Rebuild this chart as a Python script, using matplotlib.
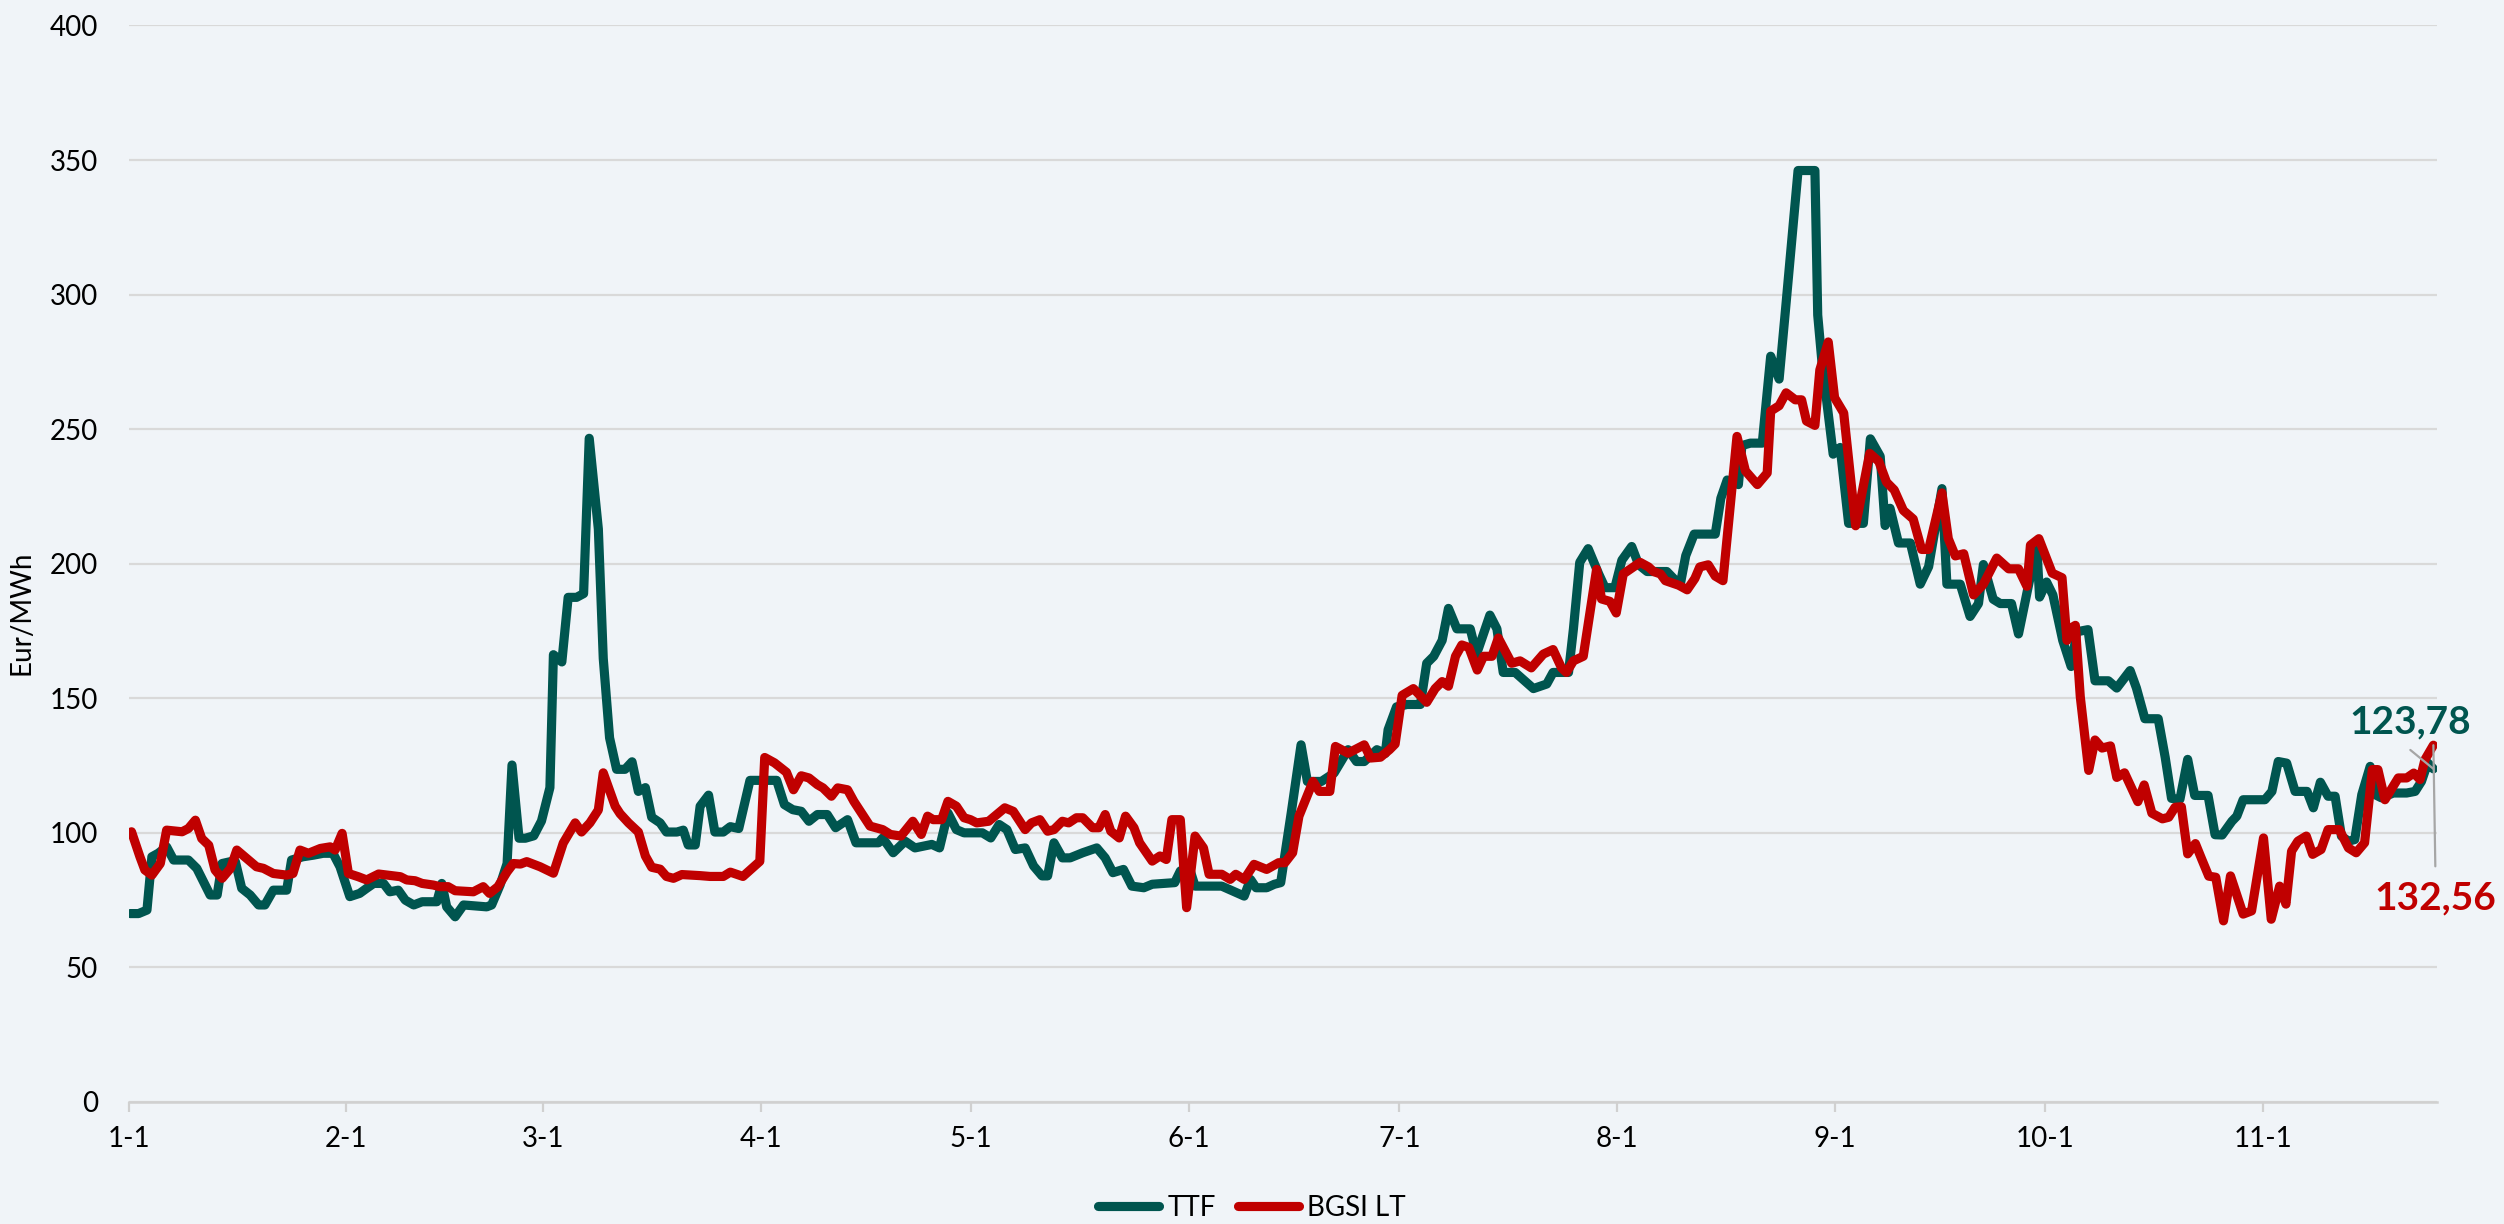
import matplotlib
matplotlib.use("Agg")
import matplotlib.pyplot as plt

# === DATA (days counted from 1 January) ===
ttf_days = [0.2, 1.4, 2.6, 3.3, 4.2, 5.4, 6.4, 8.5, 9.7, 10.9, 11.6, 12.6, 13.3, 14.5, 15.2, 16.1, 17.3,
            18.5, 19.4, 20.6, 22.5, 23.2, 24.8, 26.3, 27.7, 29.1, 30.1, 31.5, 32.9, 33.9, 34.9, 36.3,
            37.2, 38.4, 39.4, 40.6, 41.8, 43.9, 44.6, 45.3, 46.5, 47.7, 51.0, 51.7, 52.9, 53.9, 54.6,
            55.6, 56.5, 57.7, 58.8, 60.0, 60.5, 61.7, 62.6, 63.8, 64.8, 65.6, 66.9, 67.6, 68.5, 69.5,
            70.7, 71.7, 72.6, 73.6, 74.5, 75.7, 76.6, 78.1, 79.0, 79.7, 80.7, 81.4, 82.6, 83.5, 84.7,
            85.7, 86.9, 88.5, 92.3, 93.4, 94.6, 95.8, 96.9, 98.1, 99.5, 100.7, 102.4, 103.6, 106.8,
            107.4, 108.9, 110.6, 112.0, 114.4, 115.5, 116.7, 117.9, 119.0, 121.6, 122.8, 124.0, 125.1,
            126.3, 127.7, 128.9, 130.1, 130.9, 131.8, 133.0, 134.1, 135.9, 137.9, 139.1, 140.2, 141.7,
            142.9, 144.6, 145.8, 149.0, 149.8, 151.0, 151.9, 155.7, 158.9, 159.8, 160.6, 162.1, 163.2,
            164.1, 165.6, 167.0, 167.9, 169.9, 171.7, 173.7, 174.9, 176.0, 177.8, 179.0, 179.4, 180.6,
            182.1, 184.0, 184.9, 185.9, 187.1, 188.0, 189.2, 191.1, 192.0, 193.9, 194.9, 195.8, 197.5,
            200.1, 202.0, 202.9, 205.1, 205.8, 206.7, 207.9, 209.4, 210.3, 211.7, 212.7, 214.1, 215.1,
            216.3, 219.1, 221.0, 221.8, 223.0, 226.0, 226.8, 227.7, 229.3, 229.8, 231.0, 232.7, 233.9,
            235.1, 236.0, 237.8, 240.2, 240.6, 241.2, 242.8, 243.8, 245.0, 247.1, 248.1, 249.5, 250.2,
            250.9, 252.1, 253.8, 255.2, 256.4, 258.3, 259.0, 260.9, 262.3, 263.5, 264.2, 265.6, 266.6,
            268.2, 269.2, 270.6, 271.8, 272.2, 273.2, 274.1, 275.5, 276.7, 277.5, 279.1, 280.1, 282.0,
            283.2, 285.1, 286.0, 287.2, 289.1, 290.1, 291.0, 292.2, 293.3, 294.3, 296.2, 297.2, 298.2,
            299.6, 300.3, 301.2, 304.3, 305.3, 306.2, 307.4, 308.6, 310.3, 311.2, 312.2, 313.3, 314.3,
            315.2, 316.2, 317.1, 318.1, 319.3, 320.0, 320.9, 322.6, 324.5, 325.7, 326.6, 327.5, 328.3]
ttf_vals = [70, 70, 71.3, 91.1, 92.4, 94.8, 89.9, 89.9, 86.8, 80.6, 76.9, 76.9, 88.6, 89.3, 89.3, 79.4, 76.9,
            73.2, 73.2, 78.7, 78.7, 89.9, 91.1, 91.7, 92.4, 92.4, 87.4, 76.3, 77.5, 79.4, 81.2, 81.2,
            78.1, 78.7, 75.0, 73.2, 74.4, 74.4, 81.2, 72.5, 68.8, 73.2, 72.5, 73.2, 80.6, 88.6, 125.2,
            98.0, 98.0, 98.9, 104.4, 116.8, 166.2, 163.5, 187.5, 187.5, 188.9, 246.6, 212.9, 164.8, 135.3, 123.6,
            123.6, 126.4, 115.4, 116.8, 105.8, 103.7, 100.3, 100.3, 101.0, 95.5, 95.5, 109.9, 114.0, 100.3, 100.3,
            102.3, 101.6, 119.5, 119.5, 110.5, 108.6, 108.0, 104.3, 106.8, 106.8, 101.9, 104.9, 96.3, 96.3,
            98.1, 92.6, 96.9, 94.4, 95.7, 94.4, 107.4, 101.2, 100.0, 100.0, 98.1, 103.1, 101.2,
            93.8, 94.4, 87.7, 84.0, 84.0, 96.3, 90.7, 90.7, 92.6, 94.4, 90.7, 85.2, 86.4,
            80.2, 79.6, 80.9, 81.5, 85.8, 87.7, 80.2, 80.2, 76.5, 82.7, 79.6, 79.6, 80.9,
            81.5, 107.4, 132.7, 119.1, 119.1, 122.2, 130.9, 126.5, 126.5, 130.9, 129.5, 138.3, 146.8,
            147.7, 147.7, 163.0, 165.6, 171.5, 183.4, 175.8, 175.8, 166.4, 180.9, 175.8, 159.6, 159.6,
            153.6, 155.3, 159.6, 159.6, 175.8, 200.5, 205.6, 196.2, 191.1, 191.1, 201.3, 206.4, 199.6,
            197.1, 197.1, 192.0, 203.0, 211.0, 211.0, 224.3, 231.1, 229.4, 243.9, 244.8, 244.8, 277.1,
            268.6, 294.1, 346.1, 346.1, 292.4, 275.0, 240.7, 243.2, 215.0, 215.0, 246.4, 239.9, 214.2,
            220.6, 207.7, 207.7, 192.4, 198.9, 227.9, 192.4, 192.4, 180.4, 185.2, 199.7, 186.8, 185.2,
            185.2, 173.9, 191.6, 206.9, 187.6, 193.2, 188.4, 171.5, 161.8, 174.7, 175.5, 156.5, 156.5,
            153.8, 160.3, 153.8, 142.4, 142.4, 128.0, 112.8, 112.5, 127.3, 113.9, 113.9, 99.3, 99.2,
            104.3, 106.2, 112.3, 112.3, 115.4, 126.5, 125.9, 115.4, 115.4, 109.3, 118.8, 113.6, 113.6,
            98.8, 96.9, 97.5, 114.2, 124.7, 114.2, 113.0, 114.8, 114.8, 115.4, 119.1, 126.0, 123.78]

bgsi_days = [0.4, 1.6, 2.3, 3.3, 4.5, 5.4, 7.6, 8.5, 9.5, 10.4, 11.4, 12.3, 13.3, 14.5, 15.4, 16.8, 18.2,
             19.2, 20.6, 22.5, 23.4, 24.4, 25.6, 27.3, 28.7, 29.4, 30.4, 31.3, 32.7, 33.9, 35.6, 36.8,
             38.7, 39.6, 40.8, 41.8, 43.4, 44.3, 45.5, 46.5, 49.1, 50.5, 51.4, 52.6, 53.9, 54.8, 55.8,
             56.7, 58.6, 60.5, 61.9, 63.6, 64.5, 65.7, 66.9, 67.6, 69.3, 70.0, 71.2, 72.6, 73.6, 74.5,
             75.7, 76.6, 77.6, 78.8, 81.4, 82.8, 84.7, 85.7, 87.5, 89.9, 90.6, 92.0, 93.7, 94.7, 95.8,
             96.9, 98.1, 98.9, 100.1, 101.0, 102.4, 103.3, 105.6, 107.4, 108.5, 110.0, 111.7, 112.9,
             113.8, 114.6, 115.8, 116.7, 117.9, 119.0, 119.9, 120.8, 122.5, 124.8, 126.0, 127.7, 128.6,
             129.8, 130.9, 131.8, 133.0, 133.9, 135.0, 135.9, 137.3, 138.2, 139.1, 139.9, 141.1, 142.0,
             143.2, 144.0, 145.8, 146.9, 147.8, 148.6, 149.8, 150.7, 151.9, 153.1, 153.9, 155.7, 156.9,
             157.7, 158.9, 160.3, 162.1, 163.8, 164.7, 165.8, 166.7, 168.7, 169.6, 171.1, 171.9, 173.7,
             176.0, 176.9, 178.3, 179.6, 180.4, 181.4, 183.0, 184.9, 186.1, 187.1, 188.0, 189.0, 189.9,
             190.9, 192.1, 193.0, 194.2, 195.1, 197.0, 198.2, 199.8, 201.5, 202.9, 204.1, 204.8, 205.8,
             207.2, 209.1, 209.8, 211.0, 211.9, 212.9, 215.3, 216.5, 217.2, 218.2, 218.9, 220.8, 222.0,
             223.1, 223.8, 225.0, 226.0, 227.1, 229.1, 230.3, 232.0, 233.4, 233.9, 235.1, 236.1, 237.4,
             238.3, 239.0, 240.2, 240.9, 242.1, 243.0, 244.3, 246.0, 248.0, 249.3, 250.4, 251.5, 252.8,
             254.2, 255.4, 256.4, 258.3, 259.2, 260.2, 261.4, 262.8, 264.2, 266.1, 267.8, 269.2, 270.4,
             270.9, 272.1, 274.0, 275.4, 276.1, 276.8, 277.3, 278.0, 279.2, 280.1, 281.1, 282.3, 283.2,
             284.3, 286.2, 287.1, 288.2, 289.7, 290.6, 291.5, 292.4, 293.3, 294.4, 295.3, 296.3, 297.3,
             298.4, 299.4, 301.2, 302.4, 304.1, 305.2, 306.4, 307.3, 308.1, 309.0, 310.2, 311.1, 312.3,
             313.3, 314.9, 316.2, 317.3, 318.5, 319.6, 320.4, 321.4, 323.3, 324.5, 325.5, 326.4, 327.1,
             328.3]
bgsi_vals = [100.4, 91.1, 86.2, 84.3, 88.6, 101.0, 100.4, 101.6, 104.7, 97.9, 95.4, 86.2, 83.1, 86.8, 93.6, 90.5, 87.4,
             86.8, 84.9, 84.3, 84.9, 93.6, 92.4, 94.2, 94.8, 93.6, 99.8, 84.9, 83.7, 82.5, 84.7, 84.3,
             83.7, 82.5, 82.2, 81.2, 80.6, 80.0, 80.0, 78.5, 78.1, 80.0, 77.5, 80.0, 85.5, 88.6, 88.4,
             89.3, 87.4, 85.0, 96.2, 103.7, 100.3, 103.7, 108.5, 122.3, 109.9, 107.1, 103.7, 100.3, 91.4, 87.2,
             86.5, 83.8, 83.1, 84.5, 84.1, 83.8, 83.8, 85.4, 83.8, 89.4, 128.0, 126.0, 122.5, 116.0, 121.2,
             120.4, 117.9, 116.7, 113.6, 116.7, 116.0, 111.7, 102.5, 101.2, 99.4, 98.8, 104.3, 99.4,
             106.2, 104.9, 104.9, 111.7, 109.9, 105.6, 104.9, 103.7, 104.3, 109.3, 108.0, 101.2, 103.7,
             104.9, 100.6, 101.2, 104.3, 103.7, 105.6, 105.6, 101.9, 101.9, 106.8, 100.6, 98.1, 106.2,
             101.9, 96.3, 89.5, 91.4, 90.1, 104.9, 104.9, 72.2, 98.8, 94.4, 84.6, 84.6, 82.7,
             84.6, 82.7, 88.3, 86.4, 88.9, 88.9, 92.6, 106.2, 119.1, 115.4, 115.4, 132.1, 129.6,
             132.7, 127.8, 128.1, 130.9, 133.0, 151.1, 153.6, 148.5, 153.6, 156.2, 154.5, 165.6, 169.8,
             168.9, 160.5, 165.6, 165.6, 172.4, 163.0, 163.9, 161.3, 166.4, 168.1, 161.3, 159.6, 163.9,
             165.6, 197.9, 186.9, 186.0, 181.7, 196.2, 200.5, 198.8, 197.1, 196.2, 193.7, 192.0, 190.3,
             194.5, 198.8, 199.6, 195.4, 193.7, 247.3, 234.5, 229.4, 233.7, 256.7, 258.7, 263.5, 260.9,
             260.9, 253.0, 251.4, 272.0, 282.4, 261.7, 256.0, 214.1, 241.0, 238.0, 230.3, 227.4, 219.8,
             216.6, 205.3, 205.3, 226.3, 209.3, 202.9, 203.7, 188.4, 192.4, 202.1, 198.1, 198.1, 191.6,
             206.9, 209.3, 196.5, 194.8, 171.5, 176.3, 177.1, 150.6, 123.2, 134.5, 131.5, 132.3, 120.6,
             122.3, 111.6, 117.8, 107.3, 105.2, 105.8, 109.5, 109.7, 92.2, 96.0, 90.2, 83.9, 83.5,
             67.3, 84.0, 69.8, 71.0, 98.1, 67.9, 80.2, 73.5, 93.2, 96.9, 98.8, 92.0, 93.8,
             101.2, 101.2, 94.4, 92.6, 96.3, 123.5, 123.5, 112.3, 120.4, 120.4, 122.2, 119.8, 127.2,
             132.56]

month_days = [0, 31, 59, 90, 120, 151, 181, 212, 243, 273, 304]
month_labels = ["1-1", "2-1", "3-1", "4-1", "5-1", "6-1", "7-1", "8-1", "9-1", "10-1", "11-1"]
y_ticks = [0, 50, 100, 150, 200, 250, 300, 350, 400]

# === STYLE ===
BG = "#f0f4f8"
TTF_COLOR = "#00554f"
BGSI_COLOR = "#c00000"
GRID = "#d9d9d9"
LW = 3.3

plt.rcParams["font.family"] = ["Lato", "DejaVu Sans"]

fig = plt.figure(figsize=(12.52, 6.12), dpi=200, facecolor=BG)
ax = fig.add_axes([0.0514, 0.0997, 0.9218, 0.8795])
ax.set_facecolor(BG)

ax.plot(ttf_days, ttf_vals, color=TTF_COLOR, lw=LW, solid_joinstyle="round",
        solid_capstyle="round", label="TTF", zorder=3)
ax.plot(bgsi_days, bgsi_vals, color=BGSI_COLOR, lw=LW, solid_joinstyle="round",
        solid_capstyle="round", label="BGSI LT", zorder=4)

ax.set_xlim(0, 328.8)
ax.set_ylim(0, 400)
ax.set_yticks(y_ticks)
ax.set_xticks(month_days)
ax.set_xticklabels(month_labels)
ax.grid(axis="y", color=GRID, lw=0.8)
ax.set_axisbelow(True)

for side in ["top", "right", "left"]:
    ax.spines[side].set_visible(False)
ax.spines["bottom"].set_color("#d0d0d0")
ax.spines["bottom"].set_linewidth(0.9)

ax.tick_params(axis="y", length=0, pad=11, labelsize=10, labelcolor="black")
ax.tick_params(axis="x", length=3.6, width=0.8, color="#d0d0d0", pad=5, labelsize=10,
               labelcolor="black")

fig.text(22 / 2504, 0.499, "Eur/MWh", rotation=90, ha="center", va="center", fontsize=10)

# end-value callouts
ax.annotate(f"{ttf_vals[-1]:.2f}".replace(".", ","), xy=(ttf_days[-1], ttf_vals[-1]),
            xytext=(-8.3, 17), textcoords="offset points", ha="center", va="center",
            fontsize=14, fontweight="bold", color=TTF_COLOR, zorder=6)
ax.annotate("", xy=(ttf_days[-1], ttf_vals[-1]), xytext=(-8.3, 6.8), textcoords="offset points",
            arrowprops=dict(arrowstyle="-", color="#a6a6a6", lw=0.8, shrinkA=0, shrinkB=0), zorder=5)
ax.annotate(f"{bgsi_vals[-1]:.2f}".replace(".", ","), xy=(bgsi_days[-1], bgsi_vals[-1]),
            xytext=(0.7, -55), textcoords="offset points", ha="center", va="center",
            fontsize=14, fontweight="bold", color=BGSI_COLOR, zorder=6)
ax.annotate("", xy=(bgsi_days[-1], bgsi_vals[-1]), xytext=(0.7, -43.6), textcoords="offset points",
            arrowprops=dict(arrowstyle="-", color="#a6a6a6", lw=0.8, shrinkA=0, shrinkB=0), zorder=5)

fig.legend(loc="center", bbox_to_anchor=(0.5, 0.013), ncol=2, frameon=False, fontsize=10,
           handlelength=2.2, handletextpad=0.3, columnspacing=0.8)

fig.savefig("out.png", dpi=200, facecolor=BG)
